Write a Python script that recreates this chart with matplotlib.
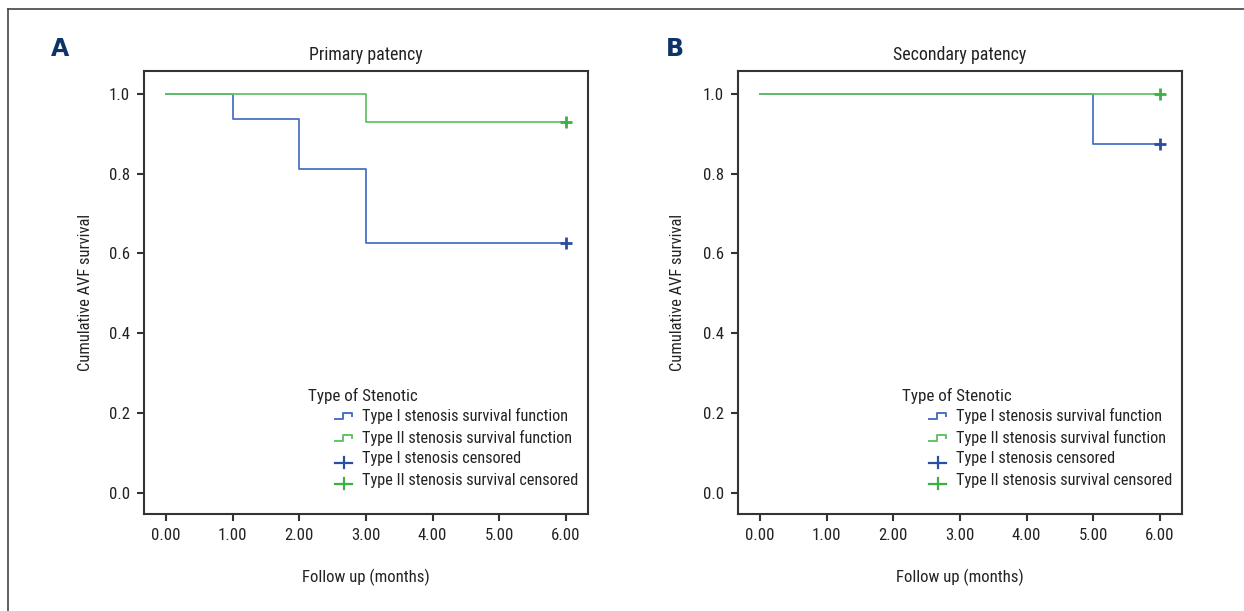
import os
import matplotlib
matplotlib.use("Agg")
import matplotlib.pyplot as plt
from matplotlib.lines import Line2D
from matplotlib import font_manager
from matplotlib.font_manager import FontProperties

# ---------------- data ----------------
xticks = [0, 1, 2, 3, 4, 5, 6]
yticks = [0.0, 0.2, 0.4, 0.6, 0.8, 1.0]

prim_t1_time = [0, 1, 2, 3, 6]
prim_t1_surv = [1.0, 0.9375, 0.8125, 0.625, 0.625]
prim_t2_time = [0, 3, 6]
prim_t2_surv = [1.0, 0.9286, 0.9286]

sec_t1_time = [0, 5, 6]
sec_t1_surv = [1.0, 0.875, 0.875]
sec_t2_time = [0, 6]
sec_t2_surv = [1.0, 1.0]

censor_time = 6

titles = ["Primary patency", "Secondary patency"]
panel_letters = ["A", "B"]
legend_title = "Type of Stenotic"
legend_labels = ["Type I stenosis survival function",
                 "Type II stenosis survival function",
                 "Type I stenosis censored",
                 "Type II stenosis survival censored"]
xlabel = "Follow up (months)"
ylabel = "Cumulative AVF survival"

# ---------------- font choice (prefer a condensed face) ----------------
def pick_font():
    prefs = ["liberationsansnarrow-regular", "robotocondensed-regular",
             "opensans_condensed-regular", "opensanscondensed",
             "notosans-condensed.", "notosans-condensedregular",
             "notosans-condensed-regular", "dejavusanscondensed.ttf",
             "condensed", "narrow"]
    files = []
    for f in font_manager.fontManager.ttflist:
        fn = os.path.basename(f.fname).lower()
        if any(b in fn for b in ["bold", "italic", "oblique", "light",
                                  "thin", "black", "medium", "semibold",
                                  "extra", "semi", "["]):
            continue
        files.append((fn, f.fname))
    for p in prefs:
        for fn, path in files:
            if p in fn:
                return FontProperties(fname=path)
    for f in font_manager.fontManager.ttflist:
        if f.name == "Liberation Sans" and f.style == "normal" and \
                f.weight in (400, "normal", "regular"):
            return FontProperties(fname=f.fname)
    return FontProperties(family="DejaVu Sans")


FP = pick_font()

BLUE = "#4a72c4"
BLUE_M = "#2a4ea0"
GREEN = "#66c266"
GREEN_M = "#3cb043"
NAVY = "#0b3468"
SPINE = "#333333"
TXT = "#222222"

W, H = 1244, 611
fig = plt.figure(figsize=(W / 100, H / 100), dpi=100)

# size the font so that the legend text has the reference's width (~207 px)
renderer = fig.canvas.get_renderer()
probe = fig.text(0, 0, legend_labels[0], fontproperties=FP, fontsize=12.5)
wpx = probe.get_window_extent(renderer).width
probe.remove()
FS = max(10.0, min(13.5, 12.5 * 207.0 / wpx))


def fpx(size):
    p = FP.copy()
    p.set_size(size)
    return p


# outer frame (top and left lines)
fig.add_artist(Line2D([8 / W, 8 / W], [0, 1 - 9 / H],
                      transform=fig.transFigure, color="#444444", lw=1.2))
fig.add_artist(Line2D([8 / W, 1], [1 - 9 / H, 1 - 9 / H],
                      transform=fig.transFigure, color="#444444", lw=1.2))

panels = [
    (144, (prim_t1_time, prim_t1_surv), (prim_t2_time, prim_t2_surv), 60, 85),
    (738, (sec_t1_time, sec_t1_surv), (sec_t2_time, sec_t2_surv), 675, 678),
]

AX_W, AX_H, AX_BOT = 444, 443, 514

for i, (left_px, s1, s2, letter_x, ylab_x) in enumerate(panels):
    ax = fig.add_axes([left_px / W, 1 - AX_BOT / H, AX_W / W, AX_H / H])
    ax.step(s1[0], s1[1], where="post", color=BLUE, lw=1.3, zorder=3)
    ax.step(s2[0], s2[1], where="post", color=GREEN, lw=1.3, zorder=3)
    ax.plot([censor_time], [s1[1][-1]], marker="+", ms=8, mew=2.0,
            color=BLUE_M, ls="none", zorder=4)
    ax.plot([censor_time], [s2[1][-1]], marker="+", ms=8, mew=2.0,
            color=GREEN_M, ls="none", zorder=4)

    ax.set_xlim(-0.33, 6.33)
    ax.set_ylim(-0.053, 1.057)
    ax.set_xticks(xticks)
    ax.set_xticklabels([f"{v:.2f}" for v in xticks])
    ax.set_yticks(yticks)
    ax.set_yticklabels([f"{v:.1f}" for v in yticks])
    ax.tick_params(direction="out", length=5, width=1.5, colors=SPINE,
                   labelcolor=TXT, pad=5)
    for lbl in ax.get_xticklabels() + ax.get_yticklabels():
        lbl.set_fontproperties(fpx(FS * 1.03))
    for sp in ax.spines.values():
        sp.set_color(SPINE)
        sp.set_linewidth(1.5)

    # title, axis labels
    ax.text(0.5, (AX_BOT - 55) / AX_H, titles[i], transform=ax.transAxes,
            fontproperties=fpx(FS * 1.1), color=TXT, ha="center", va="center")
    ax.set_xlabel(xlabel, fontproperties=fpx(FS * 1.03), color=TXT)
    ax.xaxis.set_label_coords(0.5, (AX_BOT - 577) / AX_H)
    ax.xaxis.label.set_va("center")
    ax.set_ylabel(ylabel, fontproperties=fpx(FS * 1.02), color=TXT)
    ax.yaxis.set_label_coords((ylab_x - left_px) / AX_W, 0.5)
    ax.yaxis.label.set_va("center")

    # legend (drawn in axes coordinates)
    def ax_x(px):
        return (px - left_px) / AX_W

    def ax_y(py):
        return (AX_BOT - py) / AX_H

    ax.text(ax_x(left_px + 164), ax_y(396), legend_title,
            transform=ax.transAxes, fontproperties=fpx(FS * 1.05),
            color=TXT, ha="left", va="center")
    rows_y = [416, 438, 459, 480]
    hx0 = left_px + 191
    hx1 = hx0 + 17
    tx = left_px + 218
    styles = [("step", BLUE), ("step", GREEN), ("cens", BLUE_M),
              ("cens", GREEN_M)]
    for (kind, col), yc, lab in zip(styles, rows_y, legend_labels):
        if kind == "step":
            xs = [hx0, hx0 + 8, hx0 + 8, hx1, hx1]
            ys = [yc + 3, yc + 3, yc - 3, yc - 3, yc]
            ax.add_line(Line2D([ax_x(v) for v in xs], [ax_y(v) for v in ys],
                               transform=ax.transAxes, color=col, lw=1.4,
                               clip_on=False))
        else:
            ax.add_line(Line2D([ax_x(hx0), ax_x(hx1)],
                               [ax_y(yc + 4), ax_y(yc + 4)],
                               transform=ax.transAxes, color=col, lw=1.6,
                               clip_on=False))
            xm = (hx0 + hx1) / 2
            ax.add_line(Line2D([ax_x(xm), ax_x(xm)],
                               [ax_y(yc - 2), ax_y(yc + 9)],
                               transform=ax.transAxes, color=col, lw=1.6,
                               clip_on=False))
        ax.text(ax_x(tx), ax_y(yc), lab, transform=ax.transAxes,
                fontproperties=fpx(FS), color=TXT, ha="left", va="center")

    fig.text(letter_x / W, 1 - 49 / H, panel_letters[i], fontsize=17,
             fontweight="bold", color=NAVY, ha="center", va="center",
             family="DejaVu Sans")

fig.savefig("out.png", dpi=100)
